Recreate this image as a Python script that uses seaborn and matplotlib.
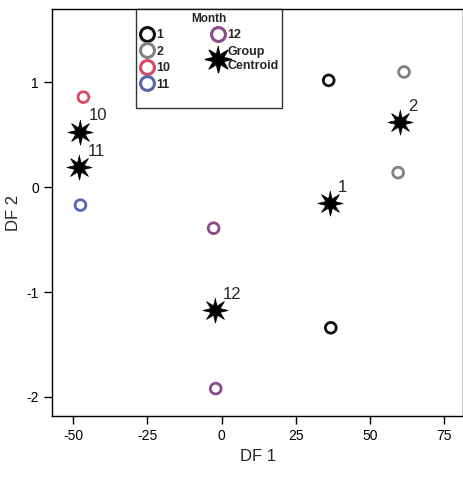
import numpy as np
import pandas as pd
import matplotlib.pyplot as plt
import seaborn as sns
from matplotlib.lines import Line2D

# observed group members (DF 1, DF 2) by month
obs_month = [1, 1, 2, 2, 10, 11, 12, 12]
obs_df1 = [36.1, 36.8, 61.5, 59.5, -46.6, -47.6, -2.7, -2.0]
obs_df2 = [1.02, -1.34, 1.10, 0.14, 0.86, -0.17, -0.39, -1.92]

# group centroids
cen_month = [1, 2, 10, 11, 12]
cen_df1 = [36.5, 60.1, -47.6, -48.0, -2.4]
cen_df2 = [-0.15, 0.62, 0.53, 0.19, -1.17]

month_colors = {1: "#111111", 2: "#7d8580", 10: "#d84a62", 11: "#5866b0", 12: "#8c4a86"}

obs = pd.DataFrame({"Month": obs_month, "DF1": obs_df1, "DF2": obs_df2})
cen = pd.DataFrame({"Month": cen_month, "DF1": cen_df1, "DF2": cen_df2})

sns.set_style("ticks")
plt.rcParams['font.family'] = ['Liberation Sans', 'DejaVu Sans']

fig = plt.figure(figsize=(4.64, 4.78), dpi=100)
ax = fig.add_axes([0.112, 0.130, 0.886, 0.851])

# spiky 8-point star marker
ang = np.linspace(0, 2 * np.pi, 17)[:-1] + np.pi / 2
rad = np.where(np.arange(16) % 2 == 0, 1.0, 0.4)
star = list(zip(rad * np.cos(ang), rad * np.sin(ang)))

sns.scatterplot(data=obs, x="DF1", y="DF2", hue="Month", palette=month_colors,
                hue_order=[1, 2, 10, 11, 12], marker="o", s=60,
                linewidth=2, legend=False, ax=ax)
coll = ax.collections[0]
coll.set_edgecolors([month_colors[m] for m in obs["Month"]])
coll.set_facecolors("none")

sns.scatterplot(data=cen, x="DF1", y="DF2", color="black", marker=star,
                s=330, linewidth=0.5, edgecolor="black", legend=False, ax=ax)

for m, x, y in zip(cen["Month"], cen["DF1"], cen["DF2"]):
    ax.annotate(str(m), (x, y), xytext=(6, 6), textcoords="offset points",
                ha="left", va="bottom", fontsize=12)

ax.set_xlim(-57.2, 81.4)
ax.set_ylim(-2.18, 1.70)
ax.set_xticks([-50, -25, 0, 25, 50, 75])
ax.set_yticks([-2, -1, 0, 1])
ax.set_xticklabels(["-50", "-25", "0", "25", "50", "75"])
ax.set_yticklabels(["-2", "-1", "0", "1"])
ax.tick_params(direction="out", length=6, width=1, labelsize=10, colors="black")
ax.set_xlabel("DF 1", fontsize=12)
ax.set_ylabel("DF 2", fontsize=12)
for sp in ax.spines.values():
    sp.set_color("black")
    sp.set_linewidth(1)

handles = []
labels = []
for m in [1, 2, 10, 11, 12]:
    handles.append(Line2D([], [], linestyle="none", marker="o", markersize=10,
                          markerfacecolor="none", markeredgecolor=month_colors[m],
                          markeredgewidth=2.2))
    labels.append(str(m))
handles.append(Line2D([], [], linestyle="none", marker=star, markersize=19,
                      color="black"))
labels.append("Group\nCentroid")
blank = Line2D([], [], linestyle="none")
handles += [blank, blank]
labels += ["", ""]

leg = ax.legend(handles, labels, ncol=2, title="Month", loc="upper left",
                bbox_to_anchor=(0.204, 1.0), frameon=True, fancybox=False,
                fontsize=9, title_fontproperties={"weight": "bold", "size": 8.5},
                handletextpad=0.15, columnspacing=3.2, labelspacing=0.36,
                borderpad=0.3, handlelength=1.2, borderaxespad=0)
leg.get_frame().set_edgecolor("black")
leg.get_frame().set_linewidth(1)
for t in leg.get_texts():
    t.set_fontweight("bold")

fig.savefig("out.png", dpi=100)
